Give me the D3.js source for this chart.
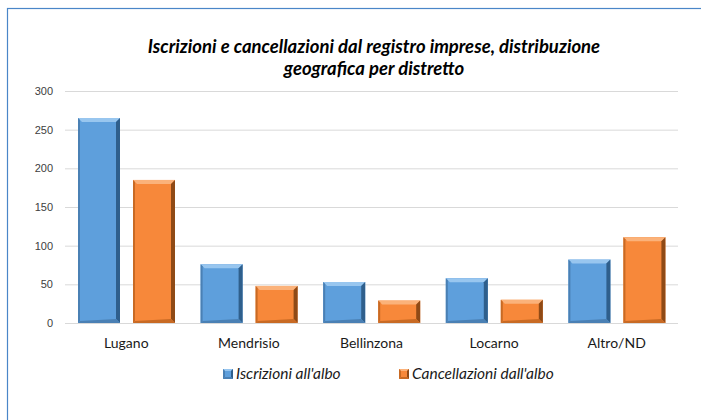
<!DOCTYPE html>
<html>
<head>
<meta charset="utf-8">
<script src="https://cdn.jsdelivr.net/npm/d3@7"></script>
<style>
  body { margin: 0; background: #fff; }
  svg { display: block; font-family: Lato, "Open Sans", sans-serif; }
  .grid line { stroke: #d9d9d9; }
  .grid .domain { display: none; }
  .axis text { fill: #404040; }
</style>
</head>
<body>
<svg id="chart" width="701" height="420"></svg>
<script>
var categories = ["Lugano", "Mendrisio", "Bellinzona", "Locarno", "Altro/ND"];
var seriesNames = ["Iscrizioni all'albo", "Cancellazioni dall'albo"];
var iscrizioni = [265, 76, 53, 58, 82];
var cancellazioni = [185, 48, 29, 30, 111];
var yTicks = [0, 50, 100, 150, 200, 250, 300];
var titleLines = ["Iscrizioni e cancellazioni dal registro imprese, distribuzione",
                  "geografica per distretto"];

var colors = [
    {main: "#5e9fdc", light: "#98c6ef", dark: "#2f5f8c", side: "#4a80b4"},
    {main: "#f7883a", light: "#fbb27a", dark: "#8f4a16", side: "#c86a24"}
];

var svg = d3.select("#chart");

// chart frame
svg.append("rect")
    .attr("x", 7.5).attr("y", 8.5)
    .attr("width", 720).attr("height", 430)
    .attr("fill", "none")
    .attr("stroke", "#4a86c8")
    .attr("stroke-width", 1.2);

// title
svg.append("g").selectAll("text")
    .data(titleLines)
    .join("text")
        .attr("x", 374)
        .attr("y", function(d, i) { return 53 + i * 22; })
        .attr("text-anchor", "middle")
        .style("font-size", "18.5px")
        .style("font-weight", "bold")
        .style("font-style", "italic")
        .attr("fill", "#000")
        .text(function(d) { return d; });

var margin = {left: 65, right: 678, top: 91, bottom: 323};

var x = d3.scaleBand()
    .domain(categories)
    .range([margin.left, margin.right]);

var xs = d3.scaleBand()
    .domain([0, 1])
    .range([13, 110])
    .paddingInner(13 / 55);

var y = d3.scaleLinear()
    .domain([0, 300])
    .range([margin.bottom, margin.top]);

// gridlines + y labels
var yAxis = svg.append("g")
    .attr("class", "grid axis")
    .attr("transform", "translate(" + margin.left + ",0)")
    .call(d3.axisLeft(y).tickValues(yTicks).tickSize(-(margin.right - margin.left)).tickPadding(12));
yAxis.selectAll("text").style("font-size", "11px");

var data = [];
categories.forEach(function(c, i) {
    data.push({cat: c, s: 0, v: iscrizioni[i]});
    data.push({cat: c, s: 1, v: cancellazioni[i]});
});

// bevelled bars
function bevel(g, x0, y0, w, h, col, b) {
    var x1 = x0 + w, y1 = y0 + h;
    g.append("rect").attr("x", x0).attr("y", y0).attr("width", w).attr("height", h).attr("fill", col.main);
    var pts = function(a) { return a.map(function(p) { return p.join(","); }).join(" "); };
    // top
    g.append("polygon").attr("points", pts([[x0, y0], [x1, y0], [x1 - b, y0 + b], [x0 + b, y0 + b]])).attr("fill", col.light);
    // left
    g.append("polygon").attr("points", pts([[x0, y0], [x0 + 2, y0 + 2], [x0 + 2, y1 - 2], [x0, y1]])).attr("fill", col.side);
    // right
    g.append("polygon").attr("points", pts([[x1, y0], [x1, y1], [x1 - b, y1 - b], [x1 - b, y0 + b]])).attr("fill", col.dark);
    // bottom
    g.append("polygon").attr("points", pts([[x0, y1], [x0 + 2, y1 - 2], [x1 - b, y1 - b], [x1, y1]])).attr("fill", col.side);
}

var bars = svg.append("g");
data.forEach(function(d) {
    var bx = x(d.cat) + xs(d.s);
    var by = y(d.v);
    bevel(bars, bx, by, xs.bandwidth(), y(0) - by, colors[d.s], 4);
});

// x labels
svg.append("g").selectAll("text")
    .data(categories)
    .join("text")
        .attr("x", function(d) { return x(d) + x.bandwidth() / 2; })
        .attr("y", 348)
        .attr("text-anchor", "middle")
        .style("font-size", "14px")
        .attr("fill", "#1a1a1a")
        .text(function(d) { return d; });

// legend
var legendX = [223, 399];
var legend = svg.append("g").selectAll("g")
    .data(seriesNames)
    .join("g")
        .attr("transform", function(d, i) { return "translate(" + legendX[i] + ",369)"; });
legend.each(function(d, i) {
    bevel(d3.select(this), 0, 0, 10, 10, colors[i], 2);
});
legend.append("text")
    .attr("x", 13)
    .attr("y", 10)
    .style("font-size", "15.5px")
    .style("font-style", "italic")
    .attr("fill", "#1a1a1a")
    .text(function(d) { return d; });
</script>
</body>
</html>
